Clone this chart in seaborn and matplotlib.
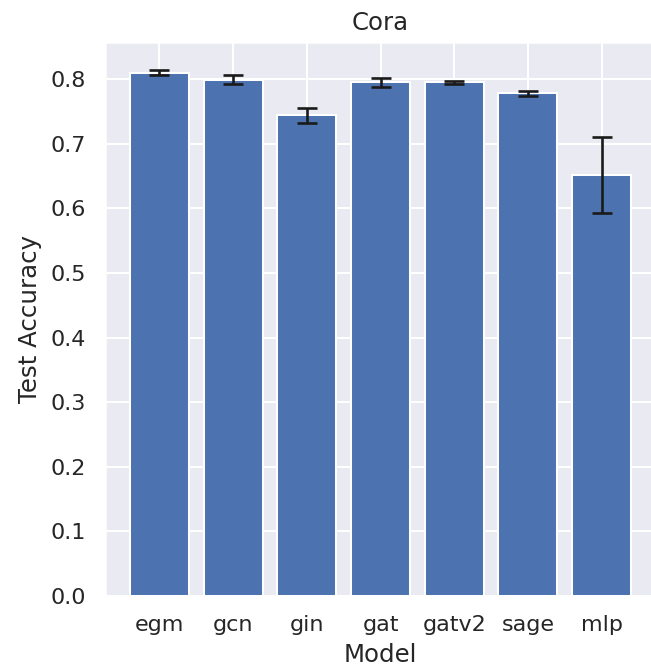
import numpy as np
import pandas as pd
import matplotlib
matplotlib.use("Agg")
import matplotlib.pyplot as plt
import seaborn as sns

# Cora results
models = ["egm", "gcn", "gin", "gat", "gatv2", "sage", "mlp"]
acc_mean = [0.810, 0.799, 0.744, 0.795, 0.795, 0.778, 0.652]
acc_std = [0.004, 0.007, 0.011, 0.007, 0.003, 0.0035, 0.059]

df = pd.DataFrame({"Model": models, "Test Accuracy": acc_mean, "std": acc_std})

sns.set_theme(style="darkgrid")

DPI = 146
fig = plt.figure(figsize=(651 / DPI, 667 / DPI), dpi=DPI)
ax = fig.add_axes([0.161, 0.1064, 0.847, 0.831])

sns.barplot(data=df, x="Model", y="Test Accuracy", color="#4c72b0", saturation=1,
            width=0.8, edgecolor="white", linewidth=1, ax=ax)
ax.errorbar(np.arange(len(models)), df["Test Accuracy"], yerr=df["std"],
            fmt="none", ecolor="#1a1a1a", elinewidth=1.3, capsize=5, capthick=1.3)

ax.xaxis.grid(True)
ax.set_axisbelow(True)
ax.set_xlim(-0.74, 6.74)
ax.set_ylim(0, 0.858)
ax.set_yticks(np.arange(0, 0.81, 0.1))
ax.set_title("Cora")
ax.set_xlabel("Model")
ax.set_ylabel("Test Accuracy")

fig.savefig("out.png", dpi=DPI)
